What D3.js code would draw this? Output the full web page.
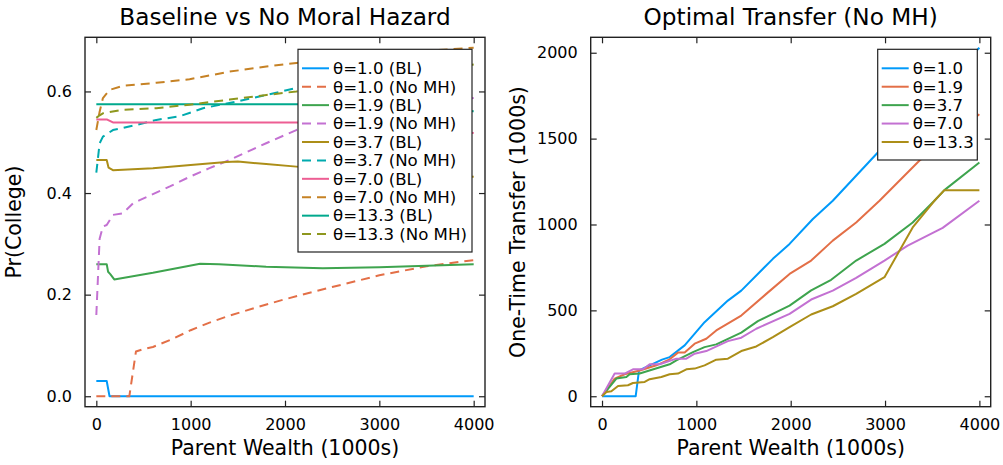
<!DOCTYPE html>
<html><head><meta charset="utf-8">
<script src="https://cdn.jsdelivr.net/npm/d3@7"></script>
<style>
body{margin:0;background:#fff;}
svg{display:block;font-family:'DejaVu Sans',sans-serif;}
</style></head>
<body><svg id="c" width="1003" height="465"></svg>
<script>
// ---------- data ----------
const wealthTicks = [0, 1000, 2000, 3000, 4000];
const prTicks = [0.0, 0.2, 0.4, 0.6];
const transferTicks = [0, 500, 1000, 1500, 2000];

const leftLabels = ["θ=1.0 (BL)","θ=1.0 (No MH)","θ=1.9 (BL)","θ=1.9 (No MH)","θ=3.7 (BL)",
  "θ=3.7 (No MH)","θ=7.0 (BL)","θ=7.0 (No MH)","θ=13.3 (BL)","θ=13.3 (No MH)"];
const rightLabels = ["θ=1.0","θ=1.9","θ=3.7","θ=7.0","θ=13.3"];

// Pr(College) vs parent wealth: [wealth, probability]
const bl_10 = [[0,0.03],[110,0.03],[140,0],[4000,0]];
const nomh_10 = [[0,0],[350,0],[420,0.088],[500,0.093],[600,0.097],[800,0.112],[1000,0.13],[1200,0.145],
  [1400,0.158],[1700,0.175],[2000,0.191],[2500,0.215],[3000,0.238],[3500,0.256],[4000,0.268]];
const bl_19 = [[0,0.26],[110,0.26],[125,0.245],[150,0.24],[190,0.23],[600,0.243],[1100,0.261],[1300,0.26],
  [1800,0.255],[2400,0.252],[3000,0.254],[3500,0.257],[4000,0.26]];
const nomh_19 = [[0,0.16],[35,0.31],[70,0.334],[110,0.337],[176,0.357],[280,0.36],[390,0.38],[460,0.386],
  [600,0.398],[780,0.413],[990,0.432],[1200,0.449],[1410,0.465],[1800,0.498],[2120,0.524],[2600,0.55],
  [3000,0.566],[3500,0.578],[4000,0.587]];
const bl_37 = [[0,0.465],[110,0.465],[130,0.45],[176,0.445],[600,0.449],[1000,0.455],[1378,0.461],[1500,0.462],
  [1800,0.457],[2121,0.452],[3000,0.44],[4000,0.432]];
const nomh_37 = [[0,0.44],[35,0.498],[70,0.511],[176,0.524],[282,0.528],[424,0.534],[636,0.544],[883,0.551],
  [1131,0.567],[1484,0.58],[1803,0.593],[2121,0.607],[2500,0.62],[3000,0.635],[3500,0.648],[4000,0.659]];
const bl_70 = [[0,0.545],[110,0.545],[176,0.539],[2121,0.539],[2800,0.535],[3400,0.527],[4000,0.518]];
const nomh_70 = [[0,0.524],[35,0.56],[70,0.587],[141,0.603],[282,0.611],[636,0.617],[989,0.624],[1413,0.639],
  [1803,0.649],[2121,0.656],[2600,0.665],[3000,0.672],[3500,0.68],[4000,0.686]];
const bl_133 = [[0,0.575],[2200,0.575],[3000,0.57],[4000,0.561]];
const nomh_133 = [[0,0.548],[35,0.553],[70,0.557],[282,0.564],[636,0.567],[989,0.574],[1413,0.584],[1803,0.593],
  [2121,0.6],[2600,0.614],[3000,0.626],[3500,0.64],[4000,0.653]];

// Optimal transfer vs parent wealth: [wealth, transfer]
const tr_10 = [[0,0],[357,0],[392,151],[636,213],[717,228],[876,296],[1087,431],[1334,557],[1476,615],[1811,800],
  [1988,887],[2235,1032],[2446,1138],[2906,1409],[3300,1640],[3650,1840],[4000,2029]];
const tr_19 = [[0,0],[134,103],[240,128],[400,150],[576,180],[717,215],[805,254],[876,254],[982,306],[1105,335],[1211,383],
  [1476,470],[1741,596],[1988,712],[2217,790],[2446,906],[2694,1012],[2941,1138],[3363,1371],[4000,1642]];
const tr_37 = [[0,0],[152,103],[258,112],[293,128],[399,132],[717,186],[788,209],[964,257],[1087,286],[1211,302],
  [1476,370],[1652,437],[1988,528],[2217,616],[2429,678],[2694,790],[2994,887],[3293,1012],[3523,1138],[3629,1200],[4000,1361]];
const tr_70 = [[0,0],[134,132],[240,132],[328,157],[434,157],[505,186],[611,186],[788,219],[894,219],[982,248],[1105,263],
  [1334,321],[1476,341],[1635,393],[1988,480],[2217,563],[2446,615],[2694,689],[2994,790],[3240,877],[3611,980],[4000,1138]];
const tr_133 = [[0,0],[47,25],[99,29],[170,60],[275,64],[328,77],[452,83],[505,99],[629,112],[717,128],[805,132],[894,157],
  [982,161],[1087,180],[1211,213],[1334,219],[1476,263],[1635,290],[1811,344],[1988,402],[2217,476],[2446,524],
  [2694,596],[2994,693],[3293,983],[3523,1138],[3629,1200],[4000,1200]];

const leftSeries = [bl_10, nomh_10, bl_19, nomh_19, bl_37, nomh_37, bl_70, nomh_70, bl_133, nomh_133];
const leftDashed = [false, true, false, true, false, true, false, true, false, true];
const rightSeries = [tr_10, tr_19, tr_37, tr_70, tr_133];

const palette = ["#009AFA","#E36F47","#3EA44E","#C371D2","#AC8E18","#00AAAE","#ED5E93","#C68225","#00A98D","#8E971E"];

// ---------- drawing ----------
const svg = d3.select("#c");
const FONT_TICK = 16, FONT_LEG = 16.6, FONT_LAB = 20.5, FONT_TITLE = 23.2;
const DASH = "9,6";

function pad(ext){ const r = ext[1]-ext[0]; return [ext[0]-0.03*r, ext[1]+0.03*r]; }

function panel(opt){
  const {x0,x1,y0,y1,series,dashed,colors,yTicks,yFmt,title,ylabel,labels,leg} = opt;
  const all = series.flat();
  const xs = d3.scaleLinear().domain(pad([0,4000])).range([x0,x1]);
  const ys = d3.scaleLinear().domain(pad(d3.extent(all,d=>d[1]))).range([y1,y0]);
  const g = svg.append("g");
  const clipId = "clip"+Math.round(x0);
  g.append("clipPath").attr("id",clipId).append("rect").attr("x",x0).attr("y",y0).attr("width",x1-x0).attr("height",y1-y0);
  const line = d3.line().x(d=>xs(d[0])).y(d=>ys(d[1]));
  const lg = g.append("g").attr("clip-path",`url(#${clipId})`);
  series.forEach((s,i)=>{
    lg.append("path").attr("d",line(s)).attr("fill","none").attr("stroke",colors[i])
      .attr("stroke-width",2).attr("stroke-linejoin","round")
      .attr("stroke-dasharray",dashed[i]?DASH:null);
  });
  // frame
  g.append("rect").attr("x",x0).attr("y",y0).attr("width",x1-x0).attr("height",y1-y0)
    .attr("fill","none").attr("stroke","#222").attr("stroke-width",1.4);
  // axes with inward ticks
  const TL = 6;
  const bx = g.append("g").attr("transform",`translate(0,${y1})`)
    .call(d3.axisBottom(xs).tickValues(wealthTicks).tickSize(-TL).tickPadding(12).tickFormat(d3.format("d")));
  const tx = g.append("g").attr("transform",`translate(0,${y0})`)
    .call(d3.axisTop(xs).tickValues(wealthTicks).tickSize(-TL).tickFormat(""));
  const ly = g.append("g").attr("transform",`translate(${x0},0)`)
    .call(d3.axisLeft(ys).tickValues(yTicks).tickSize(-TL).tickPadding(13).tickFormat(yFmt));
  const ry = g.append("g").attr("transform",`translate(${x1},0)`)
    .call(d3.axisRight(ys).tickValues(yTicks).tickSize(-TL).tickFormat(""));
  [bx,tx,ly,ry].forEach(a=>{
    a.select(".domain").remove();
    a.selectAll(".tick line").attr("stroke","#222").attr("stroke-width",1.2);
    a.selectAll("text").attr("font-family","'DejaVu Sans',sans-serif").attr("font-size",FONT_TICK).attr("fill","#000");
  });
  // titles
  const cx = (x0+x1)/2, cy = (y0+y1)/2;
  g.append("text").attr("x",cx).attr("y",25).attr("text-anchor","middle").attr("font-size",FONT_TITLE).text(title);
  g.append("text").attr("x",cx).attr("y",455).attr("text-anchor","middle").attr("font-size",FONT_LAB).text("Parent Wealth (1000s)");
  g.append("text").attr("transform",`translate(${opt.ylabX},${cy}) rotate(-90)`).attr("text-anchor","middle")
    .attr("font-size",FONT_LAB).text(ylabel);
  // legend
  const lgd = g.append("g");
  lgd.append("rect").attr("x",leg.x).attr("y",leg.y).attr("width",leg.w).attr("height",leg.h)
    .attr("fill","#fff").attr("stroke","#222").attr("stroke-width",1.2);
  labels.forEach((lab,i)=>{
    const yy = leg.y + 19 + i*18.42;
    lgd.append("line").attr("x1",leg.x+4).attr("x2",leg.x+31).attr("y1",yy).attr("y2",yy)
      .attr("stroke",colors[i]).attr("stroke-width",2).attr("stroke-dasharray",dashed[i]?DASH:null);
    lgd.append("text").attr("x",leg.x+35).attr("y",yy).attr("dy","0.35em").attr("font-size",FONT_LEG).text(lab);
  });
}

panel({x0:85,x1:485,y0:37.3,y1:406.7,series:leftSeries,dashed:leftDashed,colors:palette,
  yTicks:prTicks,yFmt:d3.format(".1f"),title:"Baseline vs No Moral Hazard",ylabel:"Pr(College)",ylabX:21,
  labels:leftLabels,leg:{x:298,y:49.3,w:174,h:202.7}});
panel({x0:590.7,x1:990.7,y0:37.3,y1:406.7,series:rightSeries,dashed:[false,false,false,false,false],colors:palette,
  yTicks:transferTicks,yFmt:d3.format("d"),title:"Optimal Transfer (No MH)",ylabel:"One-Time Transfer (1000s)",ylabX:525,
  labels:rightLabels,leg:{x:877.7,y:49.3,w:99.6,h:110.7}});
</script></body></html>
